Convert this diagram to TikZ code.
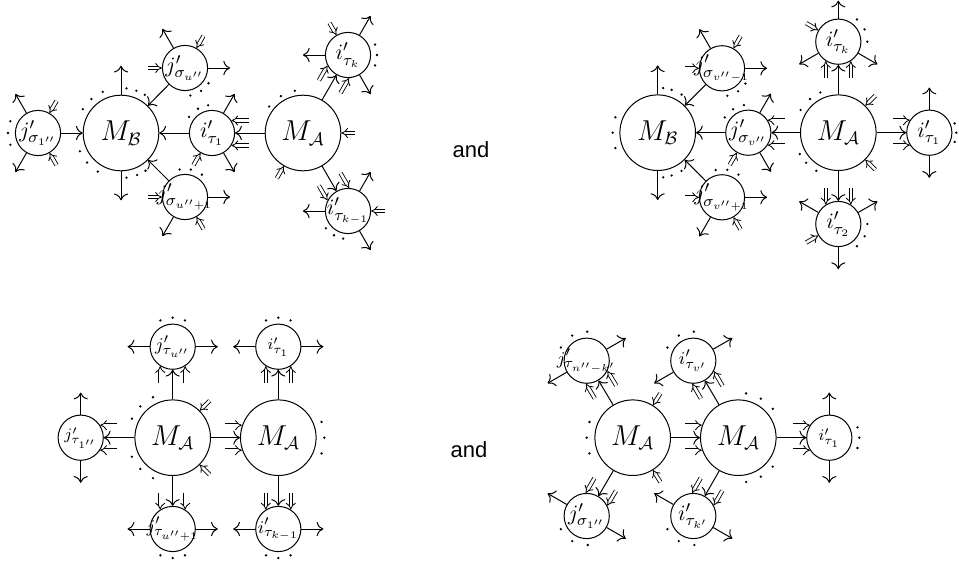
\documentclass[tikz,border=0pt]{standalone}
\usepackage{fontspec}
\newfontfamily\andfont{Liberation Sans}
\usetikzlibrary{calc,arrows.meta}
\tikzset{
  big/.style={circle,draw,minimum size=37.8pt,inner sep=0pt,line width=0.5pt},
  sm/.style={circle,draw,minimum size=22.6pt,inner sep=0pt,line width=0.5pt},
  ar/.style={-{To[scale=1.25]},line width=0.5pt},
  dbl/.style={double,double distance=1.3pt,line width=0.42pt,-{Implies}},
  andtxt/.style={font=\andfont\fontsize{11}{13}\selectfont},
  lbl/.style={inner sep=0pt,font=\fontsize{11}{13}\selectfont},
  lblM/.style={inner sep=0pt,font=\fontsize{13.5}{16}\selectfont},
  lbls/.style={inner sep=0pt,font=\fontsize{8}{10}\selectfont},
  lblf/.style={inner sep=0pt,font=\fontsize{9.5}{11}\selectfont}
}
\newcommand\OutArr[3][22]{\foreach \t in {#3}{\draw[ar] (#2.\t) -- ++(\t:#1);}}
\newcommand\InArr[2]{\foreach \t in {#2}{\draw[dbl] ($(#1.\t)+(\t:14)$) -- (#1.\t);}}
\newcommand\DotArc[3]{\foreach \t in {#3}{\fill ($(#1)+(\t:#2)$) circle (1.3);}}
\newcommand\FlankArr[3]{%
  \draw[dbl] ($(#1)+({#2}:{#3+17})+({#2+90}:12.5)$) -- ($(#1)+({#2}:{#3})+({#2+90}:12.5)$);
  \draw[dbl] ($(#1)+({#2}:{#3+17})+({#2-90}:12.5)$) -- ($(#1)+({#2}:{#3})+({#2-90}:12.5)$);}
\begin{document}
\begin{tikzpicture}[x=0.5pt,y=0.5pt]
\useasboundingbox (0,0) rectangle (959,564);
% ---------------- diagram 1 ----------------
\node[big] (MB1) at (121,431) {};
\node[sm] (j1) at (38,431) {};
\node[sm] (ju1) at (185,496) {};
\node[sm] (it1) at (212,431) {};
\node[sm] (ju2) at (185,367) {};
\node[big] (MA1) at (303,431) {};
\node[sm] (ik1) at (348,509) {};
\node[sm] (ik2) at (348,353) {};
\draw[ar] (j1) -- (MB1);
\draw[ar] (ju1) -- (MB1);
\draw[ar] (it1) -- (MB1);
\draw[ar] (ju2) -- (MB1);
\draw[ar] (MA1) -- (it1); \FlankArr{it1}{0}{19.5}
\draw[ar] (MA1) -- (ik1); \FlankArr{ik1}{240}{19.5}
\draw[ar] (MA1) -- (ik2); \FlankArr{ik2}{120}{19.5}
\OutArr[29]{MB1}{90,270}
\OutArr{j1}{120,240}
\OutArr{ju1}{120,0}
\OutArr{it1}{60,300}
\OutArr{ju2}{0,240}
\OutArr{ik1}{180,60,300}
\OutArr{ik2}{180,60,300}
\InArr{j1}{60,300}
\InArr{ju1}{180,60}
\InArr{it1}{240}
\InArr{ju2}{180,300}
\InArr{MA1}{0,240}
\InArr{ik1}{120}
\InArr{ik2}{0}
\DotArc{MB1}{45}{114,131,148}
\DotArc{MB1}{45}{58,70,83}
\DotArc{MB1}{45}{204,221,239}
\DotArc{MB1}{45}{277,291,303}
\DotArc{j1}{30}{157,180,203}
\DotArc{ju1}{28}{327,305,281}
\DotArc{it1}{28}{98,120,145}
\DotArc{ju2}{28}{101,78,53}
\DotArc{MA1}{43}{101,121,142}
\DotArc{ik1}{29}{21,0,339}
\DotArc{ik2}{28}{218,240,260}
\node[andtxt] (and1) at (471,414) {and};
% ---------------- diagram 2 ----------------
\node[big] (MB2) at (657.7,431.3) {};
\node[sm] (jv1) at (722,495.7) {};
\node[sm] (jv) at (748.3,431.3) {};
\node[sm] (jv2) at (722,366.7) {};
\node[big] (MA2) at (838.3,431.3) {};
\node[sm] (ik3) at (838.3,522.3) {};
\node[sm] (it2) at (838.3,340) {};
\node[sm] (it3) at (929.3,431.3) {};
\draw[ar] (jv1) -- (MB2);
\draw[ar] (jv) -- (MB2);
\draw[ar] (jv2) -- (MB2);
\draw[ar] (MA2) -- (jv); \FlankArr{jv}{0}{19.5}
\draw[ar] (MA2) -- (ik3); \FlankArr{ik3}{270}{19.5}
\draw[ar] (MA2) -- (it2); \FlankArr{it2}{90}{19.5}
\draw[ar] (MA2) -- (it3); \FlankArr{it3}{180}{19.5}
\OutArr[29]{MB2}{90,270}
\OutArr{jv1}{120,0}
\OutArr{jv}{60,300}
\OutArr{jv2}{0,240}
\OutArr[18]{ik3}{90}
\OutArr{ik3}{210,330}
\OutArr{it2}{270,150,30}
\OutArr{it3}{90,270}
\InArr{jv1}{180,60}
\InArr{jv}{240}
\InArr{jv2}{180,300}
\InArr{MA2}{45,315}
\InArr{ik3}{150}
\InArr{it2}{210}
\DotArc{MB2}{45}{58,72,83}
\DotArc{MB2}{45}{160,180,200}
\DotArc{MB2}{45}{277,288,302}
\DotArc{jv1}{28}{327,305,281}
\DotArc{jv}{28}{99,123,147}
\DotArc{jv2}{28}{103,79,54}
\DotArc{MA2}{44}{114,130,149}
\DotArc{MA2}{44}{209,223,240}
\DotArc{ik3}{29}{50,25,0}
\DotArc{it2}{29}{0,335,310}
\DotArc{it3}{27}{20,0,340}
% ---------------- diagram 3 ----------------
\node[big] (MA3) at (172.7,126.3) {};
\node[big] (MA4) at (278.3,126.3) {};
\node[sm] (ju3) at (172.7,217.3) {};
\node[sm] (j3) at (80.7,126.3) {};
\node[sm] (ju4) at (172.7,35) {};
\node[sm] (it4) at (278.3,217.3) {};
\node[sm] (ik4) at (278.3,35) {};
\draw[ar] (MA3) -- (ju3); \FlankArr{ju3}{270}{19.5}
\draw[ar] (MA3) -- (j3); \FlankArr{j3}{0}{19.5}
\draw[ar] (MA3) -- (ju4); \FlankArr{ju4}{90}{19.5}
\draw[ar] (MA3) -- (MA4); \FlankArr{MA4}{180}{36.5}
\draw[ar] (MA4) -- (it4); \FlankArr{it4}{270}{19.5}
\draw[ar] (MA4) -- (ik4); \FlankArr{ik4}{90}{19.5}
\OutArr{ju3}{180,0}
\OutArr{j3}{90,270}
\OutArr{ju4}{180,0}
\OutArr{it4}{180,0}
\OutArr{ik4}{180,0}
\InArr{MA3}{45,315}
\DotArc{MA3}{45}{116,136,155}
\DotArc{MA3}{45}{205,224,244}
\DotArc{MA4}{46}{20,0,340}
\DotArc{ju3}{29}{115,90,65}
\DotArc{ju4}{29}{245,270,295}
\DotArc{it4}{29}{115,90,65}
\DotArc{ik4}{29}{245,270,295}
\node[andtxt] (and2) at (469,114) {and};
% ---------------- diagram 4 ----------------
\node[big] (MA5) at (632.7,126.3) {};
\node[big] (MA6) at (738.3,126.3) {};
\node[sm] (jn) at (586.7,203.3) {};
\node[sm] (iv) at (693.3,203.3) {};
\node[sm] (j4) at (586.7,48) {};
\node[sm] (ik5) at (693.3,48) {};
\node[sm] (it5) at (829.3,126.3) {};
\draw[ar] (MA5) -- (jn); \FlankArr{jn}{301}{19.5}
\draw[ar] (MA5) -- (j4); \FlankArr{j4}{59.6}{19.5}
\draw[ar] (MA5) -- (MA6); \FlankArr{MA6}{180}{36.5}
\draw[ar] (MA6) -- (iv); \FlankArr{iv}{300.3}{19.5}
\draw[ar] (MA6) -- (ik5); \FlankArr{ik5}{60.1}{19.5}
\draw[ar] (MA6) -- (it5); \FlankArr{it5}{180}{19.5}
\OutArr{jn}{30,210}
\OutArr{iv}{30,210}
\OutArr{j4}{150,330}
\OutArr{ik5}{150,330}
\OutArr{it5}{90,270}
\InArr{MA5}{58,302}
\DotArc{MA5}{46}{160,180,200}
\DotArc{MA6}{45}{80,60,40}
\DotArc{MA6}{45}{320,300,280}
\DotArc{jn}{29}{153,120,89}
\DotArc{iv}{29}{153,120,89}
\DotArc{j4}{29}{207,240,272}
\DotArc{ik5}{29}{207,240,272}
\DotArc{it5}{30}{20,0,340}
% ---------------- labels (on top) ----------------
\node[lblM] (MB1l) at (MB1) {$M_{\mathcal B}$};
\node[lbl] (j1l) at (j1) {$j'_{\sigma_{1''}}$};
\node[lbl] (ju1l) at (ju1) {$j'_{\sigma_{u''}}$};
\node[lbl] (it1l) at (it1) {$i'_{\tau_1}$};
\node[lbl] (ju2l) at (ju2) {$j'_{\sigma_{u''+1}}$};
\node[lblM] (MA1l) at (MA1) {$M_{\mathcal A}$};
\node[lbl] (ik1l) at (ik1) {$i'_{\tau_k}$};
\node[lbl] (ik2l) at (ik2) {$i'_{\tau_{k-1}}$};
\node[lblM] (MB2l) at (MB2) {$M_{\mathcal B}$};
\node[lbl] (jv1l) at (jv1) {$j'_{\sigma_{v''-1}}$};
\node[lbl] (jvl) at (jv) {$j'_{\sigma_{v''}}$};
\node[lbl] (jv2l) at (jv2) {$j'_{\sigma_{v''+1}}$};
\node[lblM] (MA2l) at (MA2) {$M_{\mathcal A}$};
\node[lbl] (ik3l) at (ik3) {$i'_{\tau_k}$};
\node[lbl] (it2l) at (it2) {$i'_{\tau_2}$};
\node[lbl] (it3l) at (it3) {$i'_{\tau_1}$};
\node[lblM] (MA3l) at (MA3) {$M_{\mathcal A}$};
\node[lblM] (MA4l) at (MA4) {$M_{\mathcal A}$};
\node[lblf] (ju3l) at (ju3) {$j'_{\tau_{u''}}$};
\node[lbls] (j3l) at (j3) {$j'_{\tau_{1''}}$};
\node[lblf] (ju4l) at (ju4) {$j'_{\tau_{u''+1}}$};
\node[lbls] (it4l) at (it4) {$i'_{\tau_1}$};
\node[lblf] (ik4l) at (ik4) {$i'_{\tau_{k-1}}$};
\node[lblM] (MA5l) at (MA5) {$M_{\mathcal A}$};
\node[lblM] (MA6l) at (MA6) {$M_{\mathcal A}$};
\node[lblf] (jnl) at (jn) {$j'_{\tau_{n''-k'}}$};
\node[lblf] (ivl) at (iv) {$i'_{\tau_{v'}}$};
\node[lbl] (j4l) at (j4) {$j'_{\sigma_{1''}}$};
\node[lbl] (ik5l) at (ik5) {$i'_{\tau_{k'}}$};
\node[lbls] (it5l) at (it5) {$i'_{\tau_1}$};
\end{tikzpicture}
\end{document}
